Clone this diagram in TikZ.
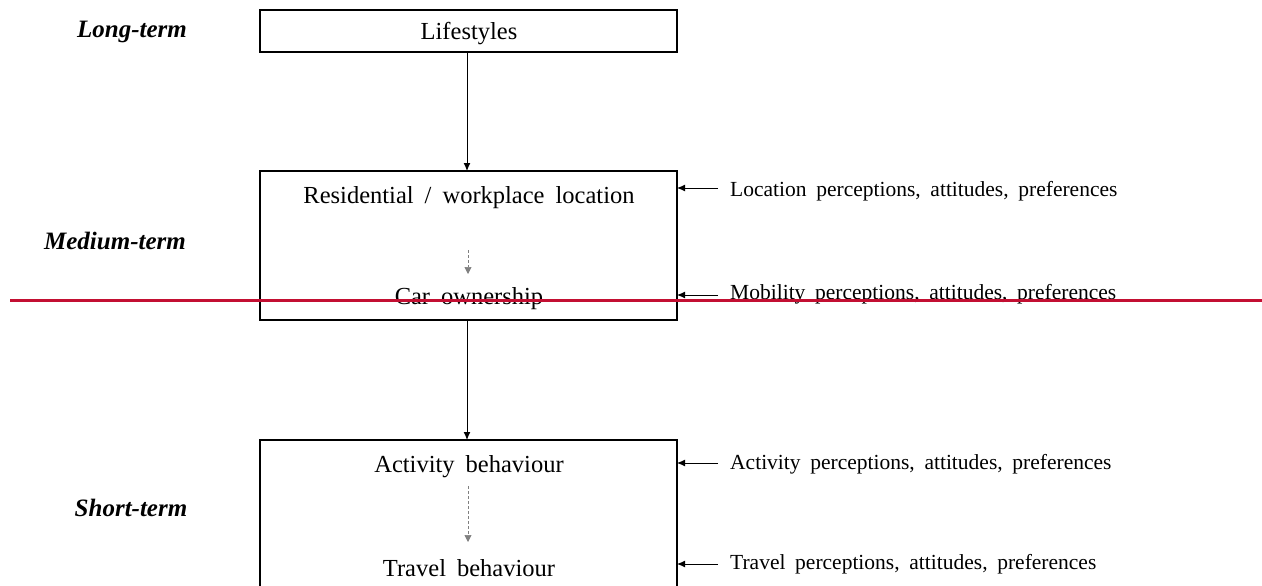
\documentclass[tikz,border=0pt]{standalone}
\usepackage{fontspec}
\setmainfont{Liberation Serif}
\newfontfamily\widefont[WordSpace=1.8]{Liberation Serif}
\usetikzlibrary{arrows.meta}
\definecolor{redline}{RGB}{195,15,50}
\begin{document}
\begin{tikzpicture}[x=1pt,y=-1pt,
  box/.style={draw=black,line width=1.3pt},
  boxtext/.style={font=\widefont\fontsize{24.5}{26}\selectfont,anchor=center,inner sep=0},
  sidetext/.style={font=\widefont\fontsize{21.5}{24}\selectfont,anchor=west,inner sep=0},
  termtext/.style={font=\fontsize{25}{27}\selectfont\bfseries\itshape,anchor=center,inner sep=0},
  arr/.style={-{Latex[length=8pt,width=7pt]},line width=1pt},
  darr/.style={-{Triangle[length=7pt,width=7pt]},draw=gray,dashed,dash pattern=on 3pt off 2pt,line width=0.7pt}]
\useasboundingbox (0,0) rectangle (1262,586);
% boxes
\draw[box] (260,10) rectangle (677,52);
\draw[box] (260,171) rectangle (677,320);
\draw[box] (260,600) -- (260,440) -- (677,440) -- (677,600);
\coordinate (ltop) at (467,52);
\coordinate (mtop) at (467,171);
\coordinate (mbot) at (467,320);
\coordinate (stop) at (467,440);
\node[boxtext] (life) at (469,34) {Lifestyles};
\node[boxtext] (res) at (469,198) {Residential / workplace location};
\node[boxtext] (car) at (469,299) {Car ownership};
\node[boxtext] (act) at (469,467) {Activity behaviour};
\node[boxtext] (trav) at (469,568) {Travel behaviour};
\draw[arr] (ltop) -- (mtop);
\draw[arr] (mbot) -- (stop);
\coordinate (d1a) at (468,250);
\coordinate (d1b) at (468,274);
\coordinate (d2a) at (468,486);
\coordinate (d2b) at (468,542);
\draw[darr] (d1a) -- (d1b);
\draw[darr] (d2a) -- (d2b);
% side labels
\node[sidetext] (loc) at (730,191) {Location perceptions, attitudes, preferences};
\node[sidetext] (mob) at (730,294) {Mobility perceptions, attitudes, preferences};
\node[sidetext] (actp) at (730,464) {Activity perceptions, attitudes, preferences};
\node[sidetext] (travp) at (730,564) {Travel perceptions, attitudes, preferences};
\coordinate (e1) at (677,188);
\coordinate (e2) at (677,295);
\coordinate (e3) at (677,463);
\coordinate (e4) at (677,564);
\draw[arr] (718,188) -- (e1);
\draw[arr] (718,295) -- (e2);
\draw[arr] (718,463) -- (e3);
\draw[arr] (718,564) -- (e4);
% term labels
\node[termtext] (lt) at (132,32) {Long-term};
\node[termtext] (mt) at (115,241) {Medium-term};
\node[termtext] (st) at (131,508) {Short-term};
% red line
\draw[redline,line width=3pt] (10,300) -- (1262,300);
\end{tikzpicture}
\end{document}
